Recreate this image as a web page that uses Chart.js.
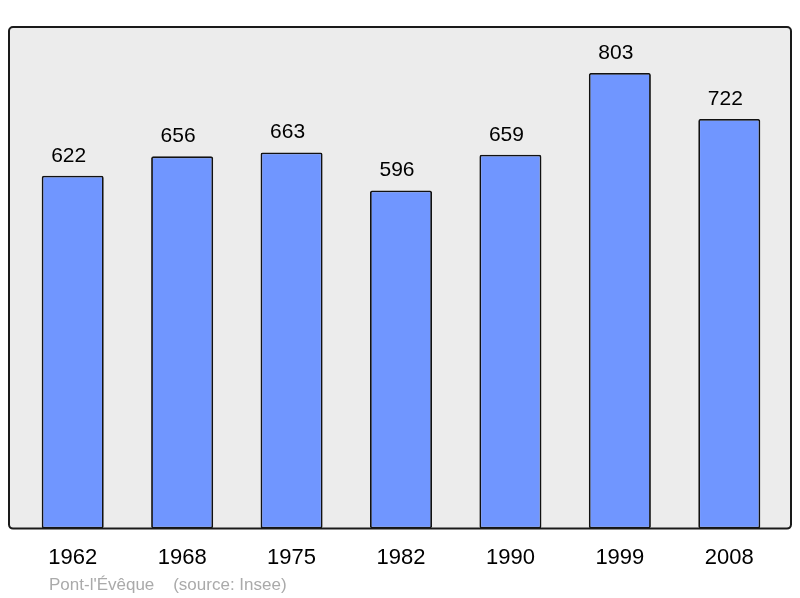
<!DOCTYPE html>
<html lang="fr">
<head>
<meta charset="UTF-8">
<title>Pont-l'Évêque population</title>
<script src="https://cdn.jsdelivr.net/npm/chart.js@4.4.0/dist/chart.umd.min.js"></script>
<style>
    html, body { margin: 0; padding: 0; background: #fff; }
    #wrap { width: 800px; height: 598px; }
</style>
</head>
<body>
<div id="wrap"><canvas id="popChart" width="800" height="598"></canvas></div>
<script>
// data
const years = ['1962', '1968', '1975', '1982', '1990', '1999', '2008'];
const population = [622, 656, 663, 596, 659, 803, 722];
const footerText = "Pont-l'Évêque    (source: Insee)";

const FONT = "'Liberation Sans', Arial, sans-serif";

// grey rounded panel behind the bars
const panelPlugin = {
    id: 'panel',
    beforeDraw(chart) {
        const { ctx, chartArea: a } = chart;
        const x = a.left - 9, y = a.top, w = a.right - a.left + 16, h = a.bottom - a.top;
        ctx.save();
        ctx.beginPath();
        ctx.roundRect(x, y, w, h, 4);
        ctx.fillStyle = '#ececec';
        ctx.fill();
        ctx.restore();
    },
    afterDatasetsDraw(chart) {
        const { ctx, chartArea: a } = chart;
        const x = a.left - 9, y = a.top, w = a.right - a.left + 16, h = a.bottom - a.top;
        ctx.save();
        ctx.beginPath();
        ctx.roundRect(x, y, w, h, 4);
        ctx.lineWidth = 2;
        ctx.strokeStyle = '#1a1a1a';
        ctx.stroke();
        // value labels above each bar (sit a touch left of centre in the original)
        ctx.font = '21px ' + FONT;
        ctx.fillStyle = '#000';
        ctx.textAlign = 'center';
        ctx.textBaseline = 'alphabetic';
        chart.getDatasetMeta(0).data.forEach((bar, i) => {
            ctx.fillText(String(population[i]), bar.x - 4, bar.y - 14);
        });
        // footer
        ctx.font = '17px ' + FONT;
        ctx.fillStyle = '#aaaaaa';
        ctx.textAlign = 'left';
        ctx.fillText(footerText, 49, 590);
        ctx.restore();
    }
};

new Chart(document.getElementById('popChart'), {
    type: 'bar',
    data: {
        labels: years,
        datasets: [{
            data: population,
            backgroundColor: '#7096ff',
            borderColor: '#111',
            borderWidth: 1.8,
            borderRadius: 2,
            borderSkipped: false,
            categoryPercentage: 0.567,
            barPercentage: 1
        }]
    },
    options: {
        responsive: false,
        animation: false,
        layout: { padding: { left: 18, right: 16, top: 27, bottom: 19 } },
        plugins: { legend: { display: false }, tooltip: { enabled: false } },
        scales: {
            y: { display: false, min: 0, max: 884 },
            x: {
                grid: { display: false },
                border: { display: false },
                ticks: { color: '#000', font: { size: 22, family: FONT }, padding: 8 }
            }
        }
    },
    plugins: [panelPlugin]
});
</script>
</body>
</html>
